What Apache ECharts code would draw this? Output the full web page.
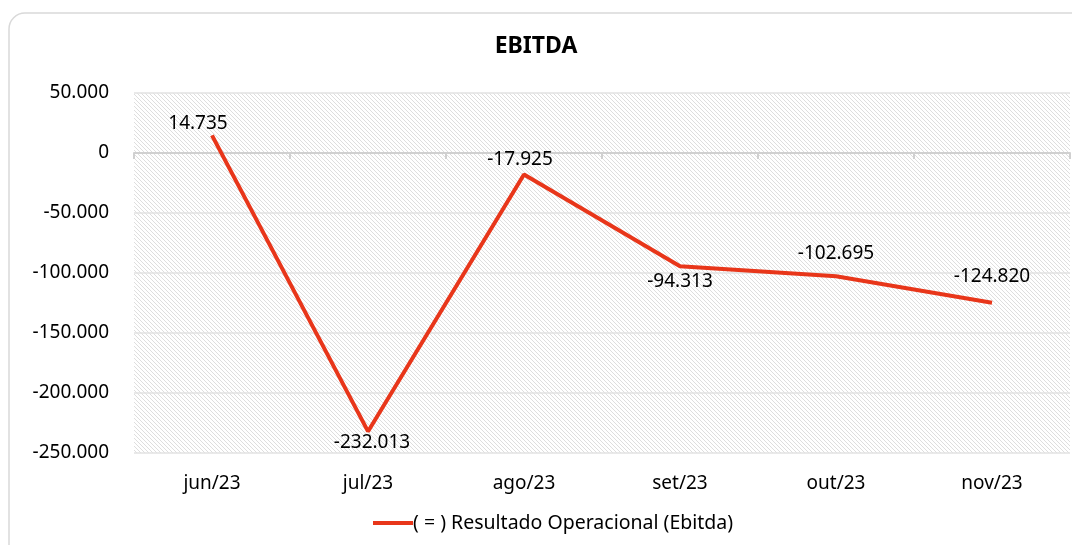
<!DOCTYPE html>
<html>
<head>
<meta charset="utf-8">
<script src="https://cdn.jsdelivr.net/npm/echarts@6/dist/echarts.min.js"></script>
<style>
  html, body { margin: 0; padding: 0; background: #fff; }
  #chart { width: 1072px; height: 545px; }
</style>
</head>
<body>
<div id="chart"></div>
<script>
// dados do gráfico
const months = ['jun/23', 'jul/23', 'ago/23', 'set/23', 'out/23', 'nov/23']
const ebitda = [14.735, -232.013, -17.925, -94.313, -102.695, -124.820]
const seriesName = '( = ) Resultado Operacional (Ebitda)'
// posição do rótulo de cada ponto (acima / abaixo)
const labelPlaces = ['top', 'bottom', 'top', 'bottom', 'top', 'top']
const labelOffsets = [[-14, 2], [4, -2], [-4, -1], [0, 2], [0, -9], [0, -13]]

const lineColor = '#e8361a'
const fontFamily = 'Noto Sans, sans-serif'

// formato pt-BR com três casas
function fmt(v) {
  if (v === 0) return '0'
  return v.toFixed(3)
}

// padrão hachurado do fundo
function hatchPattern() {
  const c = document.createElement('canvas')
  c.width = 4
  c.height = 4
  const ctx = c.getContext('2d')
  ctx.fillStyle = '#ffffff'
  ctx.fillRect(0, 0, 4, 4)
  ctx.strokeStyle = '#dedede'
  ctx.lineWidth = 1
  ctx.beginPath()
  ctx.moveTo(-1, -1)
  ctx.lineTo(5, 5)
  ctx.moveTo(-1, 3)
  ctx.lineTo(1, 5)
  ctx.moveTo(3, -1)
  ctx.lineTo(5, 1)
  ctx.stroke()
  return c
}

const chart = echarts.init(document.getElementById('chart'))

const option = {
  animation: false,
  graphic: [{
    type: 'rect',
    shape: { x: 9, y: 13, width: 1100, height: 560, r: 16 },
    style: { fill: 'none', stroke: '#d9d9d9', lineWidth: 1.5 },
    z: -10
  }],
  title: {
    text: 'EBITDA',
    left: 'center',
    top: 30,
    textStyle: { fontFamily, fontSize: 23, fontWeight: 'bold', color: '#000' }
  },
  legend: {
    bottom: 7,
    left: 368,
    itemWidth: 40,
    itemHeight: 4,
    icon: 'rect',
    itemGap: 0,
    textStyle: { fontFamily, fontSize: 19.5, color: '#000', padding: [0, 0, 0, -5] },
    data: [seriesName]
  },
  grid: {
    left: 134,
    right: 2,
    top: 93,
    height: 360,
    show: true,
    borderWidth: 0,
    backgroundColor: { image: hatchPattern(), repeat: 'repeat' }
  },
  xAxis: {
    type: 'category',
    data: months,
    boundaryGap: true,
    axisLine: { onZero: true, lineStyle: { color: '#d0d0d0', width: 2 } },
    axisTick: { show: true, length: 6, inside: false, lineStyle: { color: '#d0d0d0', width: 2 } },
    axisLabel: {
      fontFamily, fontSize: 19, color: '#000',
      margin: 21
    },
    position: 'bottom'
  },
  yAxis: {
    type: 'value',
    min: -250,
    max: 50,
    interval: 50,
    axisLine: { show: false },
    axisTick: { show: false },
    axisLabel: {
      fontFamily, fontSize: 19, color: '#000', margin: 25,
      formatter: fmt
    },
    splitLine: { lineStyle: { color: '#e2e2e2', width: 1.5 } }
  },
  series: [{
    name: seriesName,
    type: 'line',
    data: ebitda.map((v, i) => ({
      value: v,
      label: { position: labelPlaces[i], offset: labelOffsets[i] }
    })),
    symbol: 'circle',
    symbolSize: 0,
    showSymbol: true,
    lineStyle: { color: lineColor, width: 4 },
    itemStyle: { color: lineColor },
    label: {
      show: true,
      fontFamily, fontSize: 19, color: '#000',
      distance: 4,
      formatter: p => fmt(p.value)
    }
  }]
}

chart.setOption(option)
</script>
</body>
</html>
